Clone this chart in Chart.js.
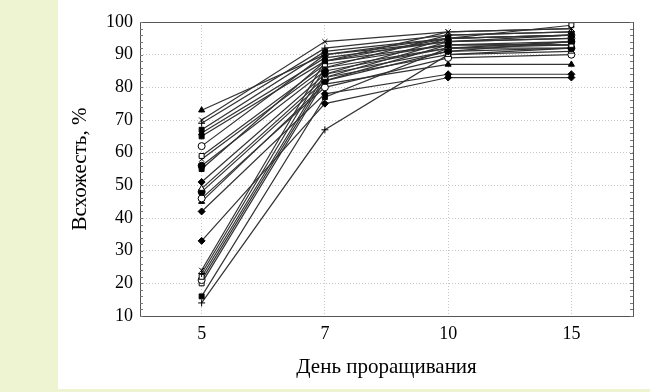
<!DOCTYPE html>
<html><head><meta charset="utf-8">
<script src="https://cdn.jsdelivr.net/npm/chart.js@4/dist/chart.umd.min.js"></script>
<style>
html,body{margin:0;padding:0;}
body{width:650px;height:392px;background:#eef4d2;position:relative;overflow:hidden;}
#wrap{position:absolute;left:58px;top:0;width:592px;height:389px;background:#fff;}
</style></head><body>
<div id="wrap"><canvas id="c" width="592" height="389"></canvas></div>
<script>
const days = ['5','7','10','15'];
const s01 = [73, 90, 95, 96];
const s02 = [70, 94, 97, 98];
const s03 = [69, 92, 96, 97];
const s04 = [67, 91, 95, 96];
const s05 = [66, 89, 94, 95];
const s06 = [65, 88, 93, 94];
const s07 = [62, 90, 94, 96];
const s08 = [59, 87, 93, 93];
const s09 = [58, 86, 92, 93];
const s10 = [56, 85, 92, 92];
const s11 = [55, 88, 95, 96];
const s12 = [51, 84, 91, 92];
const s13 = [49, 83, 90, 91];
const s14 = [48, 82, 91, 94];
const s15 = [46, 80, 89, 90];
const s16 = [45, 81, 87, 87];
const s17 = [42, 78, 84, 84];
const s18 = [33, 75, 83, 83];
const s19 = [24, 88, 97, 98];
const s20 = [23, 86, 96, 97];
const s21 = [22, 84, 95, 99];
const s22 = [21, 83, 94, 95];
const s23 = [20, 82, 93, 93];
const s24 = [16, 77, 92, 94];
const s25 = [14, 67, 90, 92];
const yTicks = [10,20,30,40,50,60,70,80,90,100];

const series = [s01,s02,s03,s04,s05,s06,s07,s08,s09,s10,s11,s12,s13,s14,s15,s16,s17,s18,s19,s20,s21,s22,s23,s24,s25];
const styles = [
 ['triangle',true],['crossRot',false],['cross',false],['rect',true],['triangle',true],
 ['rect',true],['circle',false],['rect',false],['crossRot',false],['circle',true],
 ['rect',true],['rectRot',true],['triangle',false],['circle',true],['circle',false],
 ['triangle',true],['rectRot',true],['rectRot',true],['crossRot',false],['cross',false],
 ['rect',false],['circle',false],['rect',false],['rect',true],['cross',false]
];
const datasets = series.map((d,i)=>({
  data:d,
  borderColor:'#333',
  borderWidth:1.2,
  pointStyle:styles[i][0],
  pointRadius:3.5,
  pointBackgroundColor:styles[i][1]?'#000':'#fff',
  pointBorderColor:'#000',
  pointBorderWidth:1,
  tension:0,
  fill:false
}));

const frame = {
  id:'frame',
  afterDraw(chart){
    const {ctx, chartArea:a, scales:{y}} = chart;
    ctx.save();
    ctx.strokeStyle='#555';
    ctx.lineWidth=1;
    ctx.strokeRect(Math.round(a.left)+0.5, Math.round(a.top)+0.5, Math.round(a.right-a.left), Math.round(a.bottom-a.top));
    ctx.strokeStyle='#777';
    for(let v=10; v<=100; v+=2){
      const py = Math.round(y.getPixelForValue(v))+0.5;
      ctx.beginPath();
      ctx.moveTo(a.left, py); ctx.lineTo(a.left+3, py);
      ctx.moveTo(a.right, py); ctx.lineTo(a.right-3, py);
      ctx.stroke();
    }
    ctx.restore();
  }
};

new Chart(document.getElementById('c'), {
  type:'line',
  data:{labels:days, datasets},
  options:{
    responsive:false,
    animation:false,
    events:[],
    layout:{padding:{left:0,right:17,top:22,bottom:0}},
    plugins:{legend:{display:false},tooltip:{enabled:false}},
    scales:{
      x:{
        offset:true,
        grid:{offset:false,color:'#c8c8c8',drawTicks:false,lineWidth:1},
        border:{display:false,dash:[1,2]},
        ticks:{color:'#000',padding:7,font:{family:'Liberation Serif',size:18}},
        title:{display:true,text:'День проращивания',color:'#000',font:{family:'Liberation Serif',size:21},padding:{top:0,bottom:9}},
        afterFit(s){s.height=73;}
      },
      y:{
        min:10,max:100,
        afterBuildTicks(s){s.ticks = yTicks.map(v=>({value:v}));},
        grid:{color:'#c8c8c8',drawTicks:false,lineWidth:1},
        border:{display:false,dash:[1,2]},
        ticks:{color:'#000',padding:7,font:{family:'Liberation Serif',size:18}},
        title:{display:true,text:'Всхожесть, %',color:'#000',font:{family:'Liberation Serif',size:21},padding:{top:10,bottom:0}},
        afterFit(s){s.width=82;}
      }
    }
  },
  plugins:[frame]
});
</script>
</body></html>
